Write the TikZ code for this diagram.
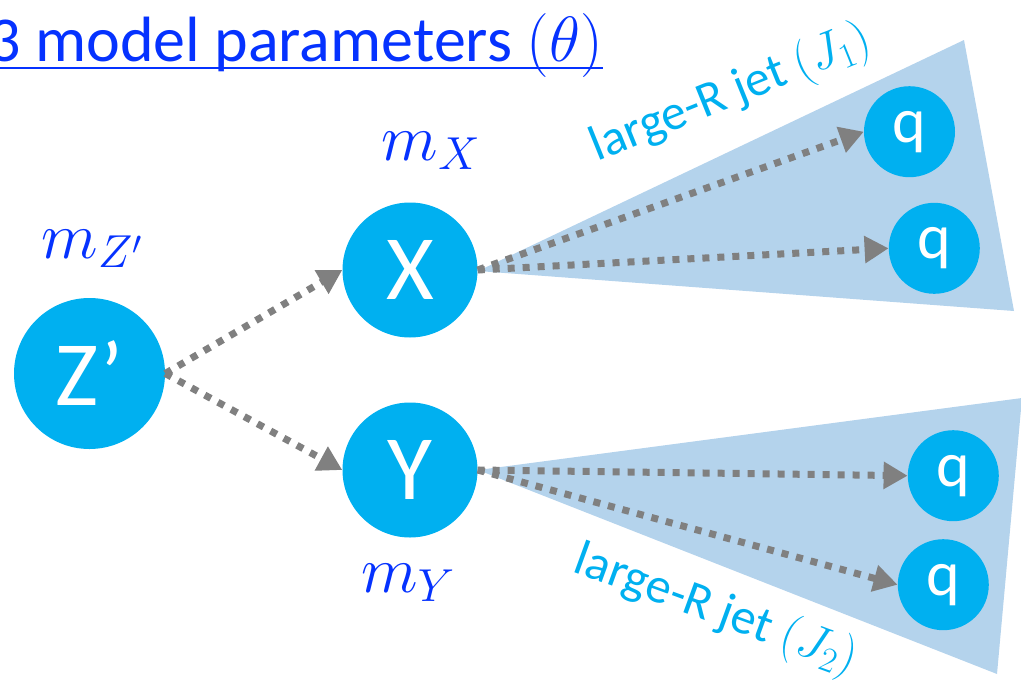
\documentclass[tikz,border=0pt]{standalone}
\usepackage{fix-cm}
\usepackage{fontspec}
\setmainfont{Carlito}
\usetikzlibrary{arrows.meta}
\definecolor{cyanb}{RGB}{0,176,240}
\definecolor{jetfill}{RGB}{180,211,236}
\definecolor{titleblue}{RGB}{5,50,255}
\definecolor{arrgray}{RGB}{128,128,128}
\begin{document}
\begin{tikzpicture}[x=1pt,y=-1pt,
  part/.style={circle,fill=cyanb,text=white,inner sep=0pt,minimum size=#1},
  bigtxt/.style={font=\fontsize{92}{96}\selectfont},
  qtxt/.style={font=\fontsize{64}{68}\selectfont},
  flow/.style={draw=arrgray,line width=7pt,dash pattern=on 7pt off 8pt,
    -{Triangle[length=24pt,width=26pt]}},
  jet/.style={fill=jetfill},
  masslbl/.style={text=titleblue,inner sep=0pt,font=\fontsize{66}{70}\selectfont},
  jetlbl/.style={text=cyanb,inner sep=0pt,font=\fontsize{50}{54}\selectfont}]
\useasboundingbox (0,0) rectangle (1021,686);
% jet cones
\fill[jet] (478,271) -- (964,40) -- (1014,311) -- cycle;
\fill[jet] (478,470) -- (1022,398) -- (997,674) -- cycle;
% particles
\node[part=151pt,bigtxt] (z) at (89.5,373.5) {Z’};
\node[part=135pt,bigtxt] (x) at (410,270) {X};
\node[part=135pt,bigtxt] (y) at (410,470) {Y};
\node[part=91pt,qtxt] (q1) at (909.5,131.7) {q};
\node[part=91pt,qtxt] (q2) at (934.3,248.3) {q};
\node[part=91pt,qtxt] (q3) at (953.3,475.7) {q};
\node[part=91pt,qtxt] (q4) at (943.3,584.7) {q};
% decays
\draw[flow] (z.east) -- (x.west);
\draw[flow] (z.east) -- (y.west);
\draw[flow] (x.east) -- (q1.west);
\draw[flow] (x.east) -- (q2.west);
\draw[flow] (y.east) -- (q3.west);
\draw[flow] (y.east) -- (q4.west);
% mass labels
\node[masslbl,anchor=base] (mz) at (92,258) {$m_{Z'}$};
\node[masslbl,anchor=base] (mx) at (431,160) {$m_X$};
\node[masslbl,anchor=base] (my) at (408,592) {$m_Y$};
% jet labels
\node[jetlbl,rotate=22] (j1) at (731,94) {large-R jet $(J_1)$};
\node[jetlbl,rotate=-20] (j2) at (716,611) {large-R jet $(J_2)$};
% title
\node[text=titleblue,inner sep=0pt,anchor=base east,font=\fontsize{64}{68}\selectfont] (title) at (603,61) {3 model parameters $(\theta)$};
\draw[titleblue,line width=2.2pt] ([yshift=-7pt]title.base west) -- ([yshift=-7pt]title.base east);
\end{tikzpicture}
\end{document}
